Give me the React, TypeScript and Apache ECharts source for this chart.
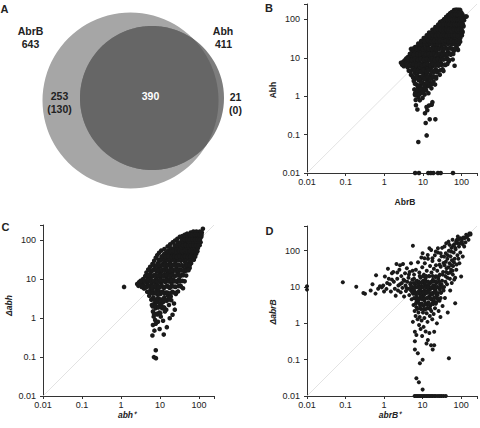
import React, { useEffect, useRef } from "react";
import * as echarts from "echarts";

const FONT = '"Liberation Sans", Arial, Helvetica, sans-serif';

// ---- Panel A (Venn) ----
const vennNames = ["AbrB", "Abh"];
const vennTotals = [643, 411];
const onlyAbrB = ["253", "(130)"];
const bothSets = "390";
const onlyAbh = ["21", "(0)"];

// ---- Tick labels ----
const tickValues = [0.01, 0.1, 1, 10, 100];

// ---- Panel B: AbrB (x) vs Abh (y) ----
const bPoints: number[][] = [
  [2.7,7.4],[2.9,6.6],[3.1,7.9],[3.2,6.0],[3.4,8.6],[3.5,7.1],[3.7,9.6],[3.8,6.4],[3.9,8.0],[4.0,5.7],
  [4.1,10.5],[4.2,7.2],[4.3,4.6],[4.5,8.8],[4.6,12.5],[4.7,6.0],[4.9,17],[4.9,3.6],[5.0,9.8],[5.2,7.6],[5.3,14],[5.4,5.0],[5.5,11],[5.5,3.2],
  [5.7,8.2],[5.8,2.5],[5.8,16],[5.9,5.8],[6.0,12],[6.0,1.5],[6.1,4.0],[6.2,9.5],[6.2,1.1],[6.3,19],[6.3,6.8],[6.4,2.9],[6.5,0.8],[6.5,13.5],[6.6,4.8],[6.6,0.58],[6.7,8.0],[6.8,2.0],[6.8,16.5],[6.9,1.3],[7.0,10.5],[7.0,5.6],[7.1,3.4],[7.2,0.45],[7.2,20],[7.3,7.2],[7.4,1.7],[7.5,12.8],[7.5,4.2],[7.6,0.95],[7.7,2.6],[7.7,9.0],[7.8,15],[7.9,5.0],[7.9,1.25],
  [8.0,22],[8.1,3.2],[8.2,7.8],[8.3,0.78],[8.3,12],[8.4,1.9],[8.5,5.6],[8.6,18],[8.7,2.5],[8.8,9.6],[8.9,1.2],[9.0,25],[9.1,4.2],[9.2,14],[9.3,6.8],[9.4,1.6],[9.5,3.0],[9.6,20],[9.7,10.5],[9.8,0.9],[9.9,5.2],[10.0,2.2],[10.1,16],[10.2,7.5],[10.3,28],[10.4,1.4],[10.5,3.8],[10.6,12],[10.7,5.8],[10.8,2.8],[10.9,22],[11.0,9.0],[11.1,1.1],[11.2,4.6],
  [11.3,30],[11.4,15],[11.5,6.8],[11.6,2.0],[11.7,11],[11.8,3.4],[11.9,24],[12.0,8.2],[12.1,1.4],[12.2,5.0],[12.3,18],[12.4,0.52],[12.5,13],[12.6,2.6],[12.7,34],[12.8,7.0],[12.9,4.0],[13.0,20],[13.1,1.8],[13.2,10],[13.4,27],[13.5,5.6],[13.6,14.5],[13.7,3.0],[13.8,8.5],[13.9,1.2],[14.0,38],[14.2,12],[14.4,0.57],[14.4,4.8],[14.6,22],[14.8,6.5],[15.0,2.3],[15.1,16],[15.3,30],[15.5,9.8],[15.7,3.6],[15.9,42],
  [16.0,5.2],[16.2,13],[16.4,24],[16.6,1.6],[16.9,0.6],[16.9,8.0],[17.1,36],[17.3,18],[17.5,3.0],[17.6,0.7],[17.7,11],[17.9,48],[18.1,6.0],[18.3,27],[18.5,15],[18.7,2.4],[18.9,9.0],[19.1,40],[19.3,4.2],[19.5,21],[19.7,13],[19.9,55],[20.1,7.0],[20.4,31],[20.6,2.0],[20.8,17],[21.0,10],[21.3,45],[21.5,5.0],[21.8,25],[22.0,3.2],
  [22.3,62],[22.6,14],[22.9,36],[23.2,8.0],[23.5,20],[23.8,4.2],[24.1,50],[24.4,11],[24.7,28],[25.0,70],[25.4,6.2],[25.8,17],[26.2,40],[26.6,9.5],[27.0,24],[27.4,3.6],[27.8,58],[28.2,13],[28.6,32],[29.0,78],[29.4,7.2],[29.8,19],[30.3,45],[30.8,11],[31.3,26],[31.8,90],
  [32.3,5.0],[32.8,36],[33.3,15],[33.8,62],[34.3,9.0],[34.8,22],[35.3,100],[35.9,40],[36.5,12],[37.1,75],[37.7,28],[38.3,6.5],[38.9,52],[39.5,18],[40.2,115],[40.9,34],[41.6,10],[42.3,85],[43.0,24],[43.7,60],[44.4,14],[45.0,130],
  [45.8,42],[46.6,8.0],[47.4,95],[48.2,28],[49.0,66],[49.8,18],[50.6,145],[51.5,48],[52.4,12],[53.3,110],[54.2,34],[55.1,80],[56.0,22],[57.0,155],[58.0,58],[59.0,9.0],[60.0,120],[61.0,40],[62.0,90],[63.0,15],
  [64,175],[65,68],[66,6.2],[67,130],[68,30],[69,100],[70,178],[71,50],[72,150],[73,80],[74,20],[75,118],[76,178],[77,62],[78,17],[79,140],[80,95],[81,16],[82,38],[84,178],[86,110],[88,70],[92,176],
  [90,150],[92,26],[94,88],[96,120],[98,55],[100,100],[103,45],[106,78],[106,48],[109,118],[110,70],[112,65],[116,95],[120,115],[126,118],[135,118],[105,135],
  [7.6,0.064],[12.5,0.095],[11.8,0.2],[15,0.25],[21,0.25],[11.3,0.36],[13,0.43],[6.3,1.2],
  [6.3,0.01],[7.9,0.01],[13.8,0.01],[16,0.01],[18.6,0.01],[24.5,0.01],[28.8,0.01],[60,0.01],
];
const bCore: number[][] = [
  [6.4,1.05],[7.3,1.4],[8.7,1.5],[9.9,1.25],[11.5,1.55],[8.0,1.1],
  [6.2,2.1],[7.5,1.9],[9.0,2.3],[10.8,1.95],[12.8,2.15],[14.6,1.85],[16.5,2.05],
  [5.6,3.0],[6.8,3.2],[8.1,2.8],[9.8,3.3],[11.2,2.9],[13.5,3.2],[15.8,2.85],[18.5,3.3],[22,2.9],
  [4.8,4.4],[6.0,4.7],[7.2,4.5],[8.8,4.3],[10.3,4.8],[12.2,4.4],[14.0,4.7],[16.8,4.3],[19.8,4.6],[23.5,4.4],[28,4.7],[34,4.5],
  [3.8,6.6],[4.6,6.3],[5.6,6.8],[6.7,6.4],[8.0,6.7],[9.5,6.3],[11.3,6.6],[13.2,6.9],[15.6,6.4],[18.2,6.7],[21.5,6.3],[25.5,6.8],[30,6.5],[36,6.6],[43,6.9],
  [4.2,9.2],[5.1,8.8],[6.1,9.4],[7.4,8.9],[8.9,9.3],[10.6,8.8],[12.6,9.2],[14.8,8.7],[17.4,9.4],[20.5,8.9],[24,9.3],[28.5,8.8],[33.5,9.1],[40,9.3],[47,8.9],
  [4.7,12.8],[5.8,12.2],[7.1,12.6],[8.6,12.3],[10.2,12.9],[12.1,12.4],[14.3,12.7],[16.9,12.2],[19.8,12.8],[23.3,12.4],[27.2,12.9],[32,12.3],[37.5,12.7],[44,12.4],[52,12.8],[61,12.5],
  [5.4,17.3],[6.9,16.8],[8.4,17.4],[10.0,16.9],[11.9,17.3],[14.0,17.1],[16.5,16.8],[19.3,17.4],[22.6,16.9],[26.4,17.2],[31,16.8],[36.5,17.3],[43,17.0],[50,17.4],[58,16.8],[68,17.2],
  [7.6,23.5],[9.2,22.6],[11.0,23.3],[13.0,22.8],[15.4,23.4],[18.0,22.7],[21,23.2],[24.6,22.9],[28.8,23.5],[33.6,22.7],[39,23.3],[45.5,22.9],[53,23.4],[62,22.8],[73,23.1],[85,22.9],
  [10.5,32.5],[12.6,31.5],[15.0,32.3],[17.8,31.8],[20.8,32.6],[24.3,31.6],[28.3,32.4],[33,31.7],[38.4,32.5],[44.6,31.8],[51.8,32.3],[60,31.6],[69.5,32.4],[80,31.9],[92,32.2],
  [14.5,45.5],[17.2,44.3],[20.3,45.8],[24,44.6],[28,45.4],[32.8,44.5],[38.2,45.7],[44.5,44.8],[51.5,45.5],[59.5,44.4],[68.5,45.6],[79,44.8],[91,45.3],[104,44.7],
  [21,62.8],[25,61.5],[29.6,62.6],[34.6,61.7],[40.3,62.9],[46.8,61.4],[54,62.5],[62.4,61.8],[72,62.7],[83,61.5],[96,62.3],
  [28,86],[33,84],[38.6,85.8],[45,84.5],[52,86.2],[60,84.4],[69,85.7],[79,84.6],[91,85.5],
  [40,116],[46.5,114],[54,116.5],[62.5,114.5],[72,115.8],[83,114.2],[95,115.5],
  [55,152],[63,148],[73,151],[85,149],[98,150.5],
];
const bUpper: number[][] = [
  [9,27.5],[11.2,26.5],[13.6,27.6],[16.4,26.7],[19.6,27.4],[23.4,26.6],[27.8,27.5],[33,26.8],[39,27.6],[46,26.6],[54,27.3],[64,26.7],[76,27.4],[88,26.8],
  [12.6,38.5],[15.2,37.5],[18.2,38.7],[21.6,37.6],[25.6,38.4],[30.2,37.7],[35.6,38.6],[41.8,37.5],[49,38.3],[57.4,37.8],[67,38.5],[78,37.6],[90,38.2],[102,37.8],
  [17.6,53.5],[21,52.3],[24.8,53.8],[29.2,52.5],[34.3,53.4],[40.2,52.6],[47,53.7],[55,52.4],[64,53.3],[74.5,52.7],[86,53.5],[99,52.8],
  [25,73.8],[29.5,72.2],[34.6,73.6],[40.5,72.5],[47.4,73.9],[55.4,72.3],[64.6,73.5],[75,72.6],[87,73.4],[100,72.8],
  [36,101],[42,99],[49,100.8],[57,99.3],[66,100.6],[76.5,99.5],[88,100.4],[101,99.6],
  [50,133],[58,131],[67.5,132.8],[78,131.3],[90,132.5],
];

// ---- Panel C: abh+ (x) vs Δabh (y) ----
const cPoints: number[][] = [
  [1.2,6.4],
  [2.6,7.6],[2.8,6.8],[2.9,8.4],[3.1,7.2],[3.2,9.2],[3.4,6.4],[3.5,8.0],[3.7,10.2],[3.8,7.0],[3.9,5.8],
  [4.1,9.0],[4.2,12],[4.3,6.2],[4.5,15],[4.6,8.0],[4.7,4.8],[4.8,10.5],[5.0,18],[5.0,6.8],[5.2,12.8],[5.3,3.8],[5.4,8.8],[5.6,21],[5.7,5.6],[5.8,11],[5.9,15.5],[6.0,3.0],[6.1,7.5],[6.2,2.2],
  [6.4,0.36],[6.4,25],[6.5,5.0],[6.5,12],[6.6,1.5],[6.6,0.67],[6.7,9.0],[6.8,3.4],[6.8,18],[6.9,1.1],[7.0,6.4],[7.0,0.1],[7.1,30],[7.2,2.4],[7.2,0.48],[7.3,13],[7.4,4.4],[7.5,0.9],[7.5,22],[7.6,8.0],[7.7,1.8],[7.8,0.72],[7.8,0.15],[7.8,36],[7.9,0.094],[7.9,3.0],[8.0,10.5],[8.1,5.6],[8.2,1.3],[8.3,16],[8.4,2.6],[8.5,42],[8.6,7.2],[8.7,4.0],[8.8,26],[8.9,0.81],[8.9,12],[9.0,1.9],
  [9.1,5.0],[9.2,20],[9.3,3.2],[9.4,9.0],[9.5,48],[9.6,1.4],[9.7,14],[9.8,0.53],[9.8,6.2],[9.9,30],[10.0,2.4],[10.2,11],[10.3,4.2],[10.4,22],[10.5,1.1],[10.6,8.0],[10.8,55],[10.9,16],[11.0,3.0],[11.1,6.8],[11.3,36],[11.4,1.8],[11.5,12.5],[11.7,4.8],[11.8,25],[12.0,0.86],[12.0,9.5],[12.1,2.6],[12.3,42],[12.5,0.38],[12.5,18],
  [12.7,6.0],[12.9,3.4],[13.0,60],[13.2,13.5],[13.4,1.5],[13.6,28],[13.8,8.5],[14.0,4.6],[14.2,20],[14.4,48],[14.5,1.66],[14.6,11],[14.8,2.8],[15.0,0.59],[15.0,34],[15.3,6.5],[15.5,16],[15.7,70],[15.9,3.8],[16.1,24],[16.4,9.5],[16.7,55],[17.0,2.2],[17.2,14],[17.5,40],[17.8,1.0],[17.8,6.0],[18.0,28],
  [18.3,80],[18.6,11],[18.9,3.6],[19.2,20],[19.5,2.9],[19.5,50],[19.8,7.8],[20.1,34],[20.5,15],[20.9,4.8],[21.0,1.23],[21.3,90],[21.7,24],[22.1,10],[22.5,60],[22.9,2.4],[23.3,17],[23.7,40],[24.0,1.66],[24.1,6.5],[24.5,100],[24.9,28],[25.0,12.5],
  [25.5,4.2],[26,70],[26.5,20],[27,45],[27.5,8.5],[28,110],[28.5,32],[29,4.9],[29,15],[29.5,80],[30,24],[30.6,55],[31.2,10],[31.8,38],[32.4,125],[33,18],[33.6,6.8],[34.2,90],[34.8,30],
  [35.5,62],[36.2,13],[37,44],[37.8,130],[38.6,22],[39,5.9],[39.4,80],[40.2,35],[41,100],[41.8,16],[42.6,58],[43,8.9],[43.4,140],[44.2,28],[45,75],[45.9,45],[46.8,110],[47.7,20],[48.6,90],[49.5,150],
  [50.5,36],[51.5,60],[52.5,120],[53.5,26],[54.5,85],[55.6,48],[56.7,140],[57.8,19.5],[58.9,100],[60,66],[61.2,160],[62.4,32],[63,26],[63.6,115],[64.8,80],[66,50],[67.3,150],[68.6,95],[70,38],[71,130],
  [72,170],[74,70],[76,110],[77,43],[78,150],[80,90],[82,130],[84,60],[86,170],[88,105],[90,140],[92,80],[93,69],[95,125],[97,160],[99,100],
  [102,145],[105,170],[108,120],[112,150],[115,125],[118,160],[126,200],[110,90],[104,75],
];
const cCore: number[][] = [
  [7.0,1.3],[8.6,1.25],[10.2,1.35],
  [6.5,2.0],[7.8,2.1],[9.3,1.95],[11,2.05],[12.8,1.9],
  [6.2,3.1],[7.4,2.9],[8.8,3.15],[10.4,2.95],[12.3,3.1],[14.5,2.9],[17,3.05],
  [5.4,4.5],[6.5,4.3],[7.8,4.6],[9.3,4.4],[11,4.7],[13,4.3],[15.4,4.6],[18.2,4.4],[21.5,4.6],[25.5,4.5],
  [3.6,6.6],[4.4,6.3],[5.3,6.7],[6.3,6.4],[7.6,6.8],[9.1,6.3],[10.8,6.7],[12.8,6.4],[15.2,6.8],[18,6.3],[21.2,6.6],[25,6.4],[29.5,6.7],[34.5,6.5],
  [3.2,9.0],[4.0,8.8],[4.9,9.3],[5.9,8.9],[7.1,9.2],[8.5,8.8],[10.1,9.4],[12,8.9],[14.2,9.2],[16.8,8.8],[19.8,9.3],[23.3,8.9],[27.5,9.2],[32.4,8.8],[38,9.1],
  [4.3,12.3],[5.2,12.8],[6.3,12.4],[7.6,12.9],[9.0,12.3],[10.7,12.7],[12.7,12.2],[15,12.8],[17.7,12.4],[20.9,12.9],[24.6,12.3],[29,12.7],[34,12.4],[40,12.8],[47,12.5],
  [5.4,17.2],[6.5,16.8],[7.8,17.4],[9.3,16.9],[11,17.3],[13,16.8],[15.3,17.4],[18,16.9],[21.2,17.3],[25,16.8],[29.4,17.2],[34.6,16.9],[40.6,17.4],[47.6,16.8],[54,17.2],
  [6.8,23.3],[8.1,22.7],[9.6,23.4],[11.4,22.8],[13.5,23.3],[16,22.6],[18.9,23.4],[22.3,22.8],[26.2,23.3],[30.8,22.7],[36.2,23.2],[42.5,22.8],[50,23.3],[58,22.9],
  [9.2,32.4],[10.9,31.6],[12.9,32.5],[15.3,31.7],[18,32.3],[21.2,31.8],[25,32.6],[29.4,31.6],[34.5,32.4],[40.5,31.7],[47.5,32.5],[55.5,31.8],[65,32.2],[74,31.9],
  [13,45.6],[15.4,44.4],[18.2,45.5],[21.4,44.6],[25.2,45.8],[29.6,44.5],[34.8,45.4],[40.8,44.7],[47.8,45.6],[56,44.5],[65.5,45.3],[76,44.8],[85,45.5],
  [19,63.5],[22.4,62],[26.4,63.8],[31,62.4],[36.4,63.2],[42.7,62.3],[50,63.6],[58.5,62.2],[68.5,63.4],[80,62.5],[93,63.2],
  [29,89],[34,87],[40,88.6],[47,87.4],[55,89],[64,87.3],[75,88.5],[87,87.6],[100,88.4],
  [44,123],[51.5,121],[60,122.8],[70,121.2],[81.5,122.5],[95,121.5],[108,122.3],
  [72,162],[84,158],[97,161],[110,159],
];
const cUpper: number[][] = [
  [11,38.5],[13.8,37.5],[16.5,38.7],[19.6,37.6],[23.2,38.4],[27.3,37.7],[32,38.6],[37.6,37.5],[44,38.3],[51.5,37.8],[60,38.5],[70,37.6],[80,38.2],
  [16,53.5],[19,52.3],[22.5,53.8],[26.5,52.5],[31.2,53.4],[36.7,52.6],[43,53.7],[50.5,52.4],[59,53.3],[69,52.7],[80,53.5],[91,52.8],
  [24,75.8],[28.3,74.2],[33.2,75.6],[38.9,74.5],[45.6,75.9],[53.4,74.3],[62.3,75.5],[72.6,74.6],[84.5,75.4],[98,74.8],
  [37,106],[43.2,104],[50.4,105.8],[58.8,104.3],[68.5,105.6],[79.6,104.5],[92.5,105.4],[106,104.6],
  [58,141],[67,139],[78,140.8],[90,139.3],[103,140.5],[116,139.6],
];

// ---- Panel D: abrB+ (x) vs ΔabrB (y) ----
const dPoints: number[][] = [
  [0.01,10.5],[0.01,8.5],[0.085,13.5],[0.19,10.2],[0.29,6.9],[0.32,6.5],[0.45,8.0],[0.5,12],[0.6,6.6],[0.62,21],[0.7,9.0],[0.78,10.5],[0.87,9.8],[0.95,11],[1.0,7.5],[1.05,19.5],[1.15,8.9],[1.2,13],[1.26,32],[1.33,17],[1.4,12],[1.5,7.5],[1.6,24],[1.6,16],[1.73,26],[1.8,14],[1.9,9.0],[2.0,5.8],[2.1,43],[2.2,17],[2.2,25],[2.3,8.0],[2.35,11],[2.5,30],[2.6,40],[2.6,12],[2.7,7.2],[2.8,20],[2.9,13],[3.0,9.5],[3.1,43],[3.2,16],[3.3,5.5],[3.4,15],[3.5,24],[3.6,11],[3.7,7.8],[3.8,9.5],[3.9,33],[4.0,14],[4.2,9.0],[4.3,18],[4.4,22],[4.5,6.0],[4.6,26],[4.8,12],[4.9,13],[5.0,8.0],[5.0,45],[5.2,4.6],[5.5,28],[6.0,17],
  [5.6,138],[5.4,16],[5.5,10],[5.7,6.5],[5.8,3.2],[5.6,1.1],[6.0,22],[6.1,8.0],[6.2,2.2],[6.3,0.59],[6.3,0.32],[6.3,0.19],[6.4,12],[6.5,4.8],[6.6,1.6],[6.7,30],[6.8,6.0],[6.9,0.48],[6.9,2.8],[7.0,9.8],[7.2,15],[7.3,3.8],[7.4,1.3],[7.5,0.15],[7.5,7.2],[7.6,48],[7.8,2.0],[7.9,11],[8.0,4.4],[8.1,0.9],[8.2,25],[8.3,6.5],[8.4,1.5],[8.5,0.08],[8.6,3.0],[8.7,9.0],[8.8,18],[8.9,0.7],[9.0,5.2],[9.1,2.5],[9.2,13],[9.3,65],[9.4,1.2],[9.5,7.6],[9.6,3.5],[9.7,0.45],[9.8,35],[10,0.1],[10,85],[10,10],[10.2,2.0],[10.3,5.8],[10.4,15],[10.6,0.8],[10.7,3.0],[10.8,22],[11,8.0],[11.1,1.4],[11.2,4.2],[11.4,45],[11.5,12],[11.6,2.4],[11.8,6.5],[12,0.6],[12.1,18],[12.3,3.4],[12.4,9.5],[12.6,0.28],[12.7,1.9],[12.8,28],[13,5.0],[13.2,14],[13.4,1.1],[13.5,7.0],[13.7,0.35],[13.8,60],[14,3.8],[14.2,11],[14.4,2.6],[14.6,20],[14.8,5.6],[15,0.54],[15,117],[15.2,8.5],[15.4,1.6],[15.6,38],[15.8,3.0],[16,13],[16.3,6.4],[16.6,0.25],[16.7,105],[16.8,2.2],[17,25],[17.3,4.5],[17.5,9.5],[17.8,1.3],[18,52],[18.3,0.19],[18.5,16],[18.8,3.4],[19,7.0],[19.3,1.8],[19.6,32],[20,0.25],[20,0.59],[20.2,11],[20.5,5.0],[20.8,75],[21,2.6],[21.4,19],[21.8,8.0],[22.2,40],[22.6,3.8],[23,13],[23.5,1.0],[24,28],[24.5,6.0],[25,117],[25,90],[25.5,17],[26,2.2],[26.5,9.5],[27,55],[27.5,4.2],[28,22],[28.5,12],[29,1.5],[29.5,36],[30,7.0],
  [5.3,9.0],[5.8,13],[6.4,7.0],[7.0,4.0],[7.8,13],[8.2,8.2],[8.8,5.8],[9.4,10.5],[9.8,4.6],[10.5,13],[11,6.2],[11.6,16],[12.2,7.5],[12.9,11],[13.3,3.2],[14.1,8.0],[14.9,12.5],[15.6,4.8],[16.4,9.0],[17.2,14],[18,6.2],[18.9,11],[19.8,4.0],[20.6,8.5],[21.6,14.5],[22.8,6.0],[24,10],[25.2,4.6],[26.8,14],[28,8.5],[29.5,5.0],[31,12],[33,22],[35,8.0],[37,40],[39,14],[41,26],[44,18],[47,35],[52,25],[56,40],[60,28],[65,48],[70,18],[75,30],[85,60],[90,45],[95,90],
  [11.2,62],[13.6,76],[18,62],[29.5,85],[36,69],[27.5,41],[40,50],[22,95],[32,120],[45,75],[55,95],[62,140],[70,120],[80,160],
  [31,70],[32,15],[33,3.0],[34,26],[35,46],[36,10],[37,130],[38,5.0],[39,20],[40,85],[41,160],[42,33],[43,12],[44,60],[45,2.0],[46,24],[47,178],[48,0.11],[48,100],[50,145],[50,45],[51,17],[52,8.0],[53,70],[55,30],[56,120],[57,13],[58,55],[60,200],[61,22],[62,38],[64,90],[66,16],[67,150],[68,60],[70,3.6],[72,110],[74,180],[76,42],[78,200],[80,75],[82,245],[84,200],[88,130],[92,160],[96,220],[100,19.5],[100,212],[105,180],[110,69],[110,150],[115,230],[120,130],[122,220],[130,170],[135,275],[140,240],[150,260],[155,200],[163,300],[174,300],[175,280],
  [6.9,0.031],[8,0.024],[10,0.015],
  [6.2,0.01],[6.8,0.01],[7.4,0.01],[8.1,0.01],[8.8,0.01],[9.6,0.01],[10.5,0.01],[11.5,0.01],[12.6,0.01],[13.8,0.01],[15,0.01],[16.5,0.01],[18,0.01],[20,0.01],[22,0.01],[25,0.01],[28,0.01],[31,0.01],[35,0.01],[40,0.01],
];
const dCore: number[][] = [
  [7.2,2.5],[8.6,2.6],[10.6,2.45],[12.8,2.55],[15.6,2.5],
  [6.6,3.5],[8.0,3.6],[9.2,3.45],[11.8,3.55],[14.6,3.5],[17.8,3.6],[22,3.45],
  [6.0,5.0],[7.2,5.1],[8.4,4.9],[9.6,5.1],[11.4,4.95],[13.6,5.1],[16.6,4.9],[20,5.05],[24,4.95],
  [5.4,7.1],[6.6,6.9],[7.6,7.1],[9.0,6.9],[10.6,7.1],[12.4,6.95],[14.8,7.1],[17.6,6.9],[21,7.05],[25,6.9],[30,7.1],
  [5.0,10.1],[6.2,9.9],[7.4,10.1],[8.6,9.9],[10.2,10.1],[12,9.9],[14.2,10.1],[16.8,9.9],[19.8,10.1],[23.4,9.9],[27.6,10.1],[32.5,9.9],
  [6.8,14.1],[8.2,13.9],[9.9,14.1],[11.8,13.9],[14,14.1],[16.6,13.9],[19.6,14.1],[23,13.9],
  [8.4,20.2],[10.2,19.8],[12.4,20.2],[15,19.8],[18.2,20.2],[22,19.8],[26.5,20.2],
];

// axis extents (B, C, D)
const xMax = [251, 243, 258];
const yMax = [251, 250, 480];
const dotSize = [4.6, 4.6, 4];

function fmt(v: number): string {
  const l = Math.log10(v);
  const t = tickValues.find((tv) => Math.abs(Math.log10(tv) - l) < 1e-6);
  return t === undefined ? "" : String(t);
}

function axis(gridIndex: number, max: number, isX: boolean) {
  return {
    type: "log",
    logBase: 10,
    gridIndex,
    min: 0.01,
    max,
    axisLine: { show: true, onZero: false, lineStyle: { color: "#333", width: 1 } },
    axisTick: { show: true, length: 3, lineStyle: { color: "#333", width: 1 } },
    axisLabel: {
      show: true,
      fontSize: 9,
      fontFamily: FONT,
      color: "#222",
      margin: isX ? 4 : 7,
      formatter: fmt,
    },
    splitLine: { show: false },
  };
}

function lens(c1: number[], r1: number, c2: number[], r2: number) {
  const pts: number[][] = [];
  const n = 360;
  for (let i = 0; i < n; i++) {
    const a = (i / n) * Math.PI * 2;
    let x = c2[0] + r2 * Math.cos(a);
    let y = c2[1] + r2 * Math.sin(a);
    const dx = x - c1[0];
    const dy = y - c1[1];
    const d = Math.hypot(dx, dy);
    if (d > r1) {
      x = c1[0] + (dx / d) * r1;
      y = c1[1] + (dy / d) * r1;
    }
    pts.push([x, y]);
  }
  return pts;
}

function txt(text: string, x: number, y: number, font: string, fill = "#222", rotation = 0) {
  return {
    type: "text",
    x,
    y,
    rotation,
    silent: true,
    style: {
      text,
      x: 0,
      y: 0,
      fill,
      font,
      align: "center",
      verticalAlign: "middle",
      textAlign: "center",
      textVerticalAlign: "middle",
    },
  };
}

export default function App() {
  const ref = useRef<HTMLDivElement>(null);
  useEffect(() => {
    if (!ref.current) return;
    const chart = echarts.init(ref.current, null, { renderer: "svg" });
    const cBig = [130.5, 100.5];
    const rBig = 88;
    const cSmall = [152, 98];
    const rSmall = 72;
    const bold105 = `bold 10.5px ${FONT}`;
    const bold11 = `bold 11px ${FONT}`;
    const title = `bold 8.5px ${FONT}`;
    const titleIt = `italic bold 8.5px ${FONT}`;

    const pts = [
      bPoints.concat(bCore, bUpper),
      cPoints.concat(cCore, cUpper),
      dPoints.concat(dCore),
    ];
    const series: any[] = [];
    pts.forEach((p, i) => {
      series.push({
        type: "line",
        xAxisIndex: i,
        yAxisIndex: i,
        data: [[0.01, 0.01], [xMax[i], yMax[i]]],
        symbol: "none",
        silent: true,
        z: 1,
        lineStyle: { color: "#dcdcdc", width: 0.8 },
      });
      series.push({
        type: "scatter",
        xAxisIndex: i,
        yAxisIndex: i,
        data: p,
        symbol: "circle",
        symbolSize: dotSize[i],
        clip: false,
        silent: true,
        z: 3,
        itemStyle: { color: "#1a1a1a", opacity: 1 },
      });
    });

    chart.setOption({
      animation: false,
      backgroundColor: "#ffffff",
      grid: [
        { left: 307, top: 4, width: 172, height: 169 },
        { left: 43, top: 225, width: 171, height: 171 },
        { left: 307, top: 226, width: 171, height: 170 },
      ],
      xAxis: [axis(0, xMax[0], true), axis(1, xMax[1], true), axis(2, xMax[2], true)],
      yAxis: [axis(0, yMax[0], false), axis(1, yMax[1], false), axis(2, yMax[2], false)],
      series,
      graphic: [
        { type: "circle", silent: true, shape: { cx: cBig[0], cy: cBig[1], r: rBig }, style: { fill: "#a6a6a6" } },
        { type: "circle", silent: true, shape: { cx: cSmall[0], cy: cSmall[1], r: rSmall }, style: { fill: "#7d7d7d" } },
        { type: "polygon", silent: true, shape: { points: lens(cBig, rBig, cSmall, rSmall) }, style: { fill: "#666666" } },
        txt("A", 4.5, 9, bold11),
        txt(vennNames[0], 30.5, 31, bold105),
        txt(String(vennTotals[0]), 30.5, 43.5, bold105),
        txt(vennNames[1], 223, 31, bold105),
        txt(String(vennTotals[1]), 223.5, 43.5, bold105),
        txt(onlyAbrB[0], 59.5, 96, bold105),
        txt(onlyAbrB[1], 59.5, 108.5, bold105),
        txt(bothSets, 150.5, 96, bold105, "#ffffff"),
        txt(onlyAbh[0], 235.5, 96.5, bold105),
        txt(onlyAbh[1], 235.5, 109.5, bold105),
        txt("B", 269, 8, bold11),
        txt("C", 5.5, 227, bold11),
        txt("D", 269.5, 230.5, bold11),
        txt("AbrB", 405, 201.5, title),
        txt("Abh", 272.5, 90, title, "#222", Math.PI / 2),
        txt("abh⁺", 127, 415, titleIt),
        txt("Δabh", 9, 305.5, titleIt, "#222", Math.PI / 2),
        txt("abrB⁺", 390, 415, titleIt),
        txt("ΔabrB", 272.5, 312, titleIt, "#222", Math.PI / 2),
      ],
    });
    return () => chart.dispose();
  }, []);
  return (
    <div
      ref={ref}
      style={{ position: "absolute", left: 0, top: 0, width: 480, height: 428, background: "#fff" }}
    />
  );
}
